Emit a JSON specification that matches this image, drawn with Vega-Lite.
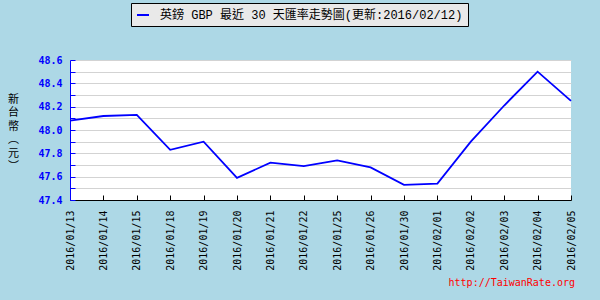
{
  "$schema": "https://vega.github.io/schema/vega-lite/v6.json",
  "width": 501,
  "height": 140,
  "autosize": {"type": "none"},
  "padding": {"left": 70, "top": 60, "right": 29, "bottom": 100},
  "background": "#add8e6",
  "title": {
    "text": "http://TaiwanRate.org",
    "orient": "bottom",
    "anchor": "end",
    "frame": "group",
    "color": "#ff0000",
    "font": "DejaVu Sans Mono",
    "fontSize": 10,
    "fontWeight": "normal",
    "baseline": "top",
    "offset": 8,
    "dx": 4
  },
  "config": {
    "view": {"fill": "#ffffff", "stroke": null}
  },
  "data": {
    "values": [
      {"date": "2016/01/13", "rate": 48.08, "series": "英鎊 GBP 最近 30 天匯率走勢圖(更新:2016/02/12)"},
      {"date": "2016/01/14", "rate": 48.12, "series": "英鎊 GBP 最近 30 天匯率走勢圖(更新:2016/02/12)"},
      {"date": "2016/01/15", "rate": 48.13, "series": "英鎊 GBP 最近 30 天匯率走勢圖(更新:2016/02/12)"},
      {"date": "2016/01/18", "rate": 47.83, "series": "英鎊 GBP 最近 30 天匯率走勢圖(更新:2016/02/12)"},
      {"date": "2016/01/19", "rate": 47.90, "series": "英鎊 GBP 最近 30 天匯率走勢圖(更新:2016/02/12)"},
      {"date": "2016/01/20", "rate": 47.59, "series": "英鎊 GBP 最近 30 天匯率走勢圖(更新:2016/02/12)"},
      {"date": "2016/01/21", "rate": 47.72, "series": "英鎊 GBP 最近 30 天匯率走勢圖(更新:2016/02/12)"},
      {"date": "2016/01/22", "rate": 47.69, "series": "英鎊 GBP 最近 30 天匯率走勢圖(更新:2016/02/12)"},
      {"date": "2016/01/25", "rate": 47.74, "series": "英鎊 GBP 最近 30 天匯率走勢圖(更新:2016/02/12)"},
      {"date": "2016/01/26", "rate": 47.68, "series": "英鎊 GBP 最近 30 天匯率走勢圖(更新:2016/02/12)"},
      {"date": "2016/01/30", "rate": 47.53, "series": "英鎊 GBP 最近 30 天匯率走勢圖(更新:2016/02/12)"},
      {"date": "2016/02/01", "rate": 47.54, "series": "英鎊 GBP 最近 30 天匯率走勢圖(更新:2016/02/12)"},
      {"date": "2016/02/02", "rate": 47.90, "series": "英鎊 GBP 最近 30 天匯率走勢圖(更新:2016/02/12)"},
      {"date": "2016/02/03", "rate": 48.21, "series": "英鎊 GBP 最近 30 天匯率走勢圖(更新:2016/02/12)"},
      {"date": "2016/02/04", "rate": 48.50, "series": "英鎊 GBP 最近 30 天匯率走勢圖(更新:2016/02/12)"},
      {"date": "2016/02/05", "rate": 48.25, "series": "英鎊 GBP 最近 30 天匯率走勢圖(更新:2016/02/12)"}
    ]
  },
  "mark": {"type": "line", "strokeWidth": 1.8},
  "encoding": {
    "x": {
      "field": "date",
      "type": "ordinal",
      "scale": {"type": "point", "padding": 0},
      "axis": {
        "title": null,
        "labelAngle": 270,
        "labelAlign": "right",
        "labelBaseline": "middle",
        "labelFont": "DejaVu Sans Mono",
        "labelFontSize": 10,
        "labelColor": "#000000",
        "labelPadding": 15,
        "tickSize": -5,
        "tickColor": "#000000",
        "domainColor": "#000000",
        "grid": false
      }
    },
    "y": {
      "field": "rate",
      "type": "quantitative",
      "scale": {"domain": [47.4, 48.6], "nice": false, "zero": false},
      "axis": {
        "values": [47.4, 47.5, 47.6, 47.7, 47.8, 47.9, 48.0, 48.1, 48.2, 48.3, 48.4, 48.5, 48.6],
        "labelExpr": "round(datum.value * 10) % 2 == 0 ? format(datum.value, '.1f') : ''",
        "labelFont": "DejaVu Sans Mono",
        "labelFontSize": 10,
        "labelFontWeight": "bold",
        "labelColor": "#0000ff",
        "labelPadding": 13,
        "tickSize": -5,
        "tickColor": "#0000ff",
        "domainColor": "#0000ff",
        "grid": true,
        "gridColor": "#d3d3d3",
        "title": ["新", "台", "幣", "︵", "元", "︶"],
        "titleFont": "Noto Sans CJK TC",
        "titleFontSize": 11,
        "titleFontWeight": "normal",
        "titleLineHeight": 13.5,
        "titleAngle": 0,
        "titleAlign": "center",
        "titleBaseline": "middle",
        "titleX": -57,
        "titleY": 39,
        "titleColor": "#000000"
      }
    },
    "color": {
      "field": "series",
      "type": "nominal",
      "scale": {"range": ["#0000ff"]},
      "legend": {
        "title": null,
        "orient": "none",
        "legendX": 61,
        "legendY": -57,
        "fillColor": "#e9e9e9",
        "strokeColor": "#000000",
        "padding": 5,
        "symbolType": "stroke",
        "symbolSize": 144,
        "symbolStrokeWidth": 2,
        "labelOffset": 10,
        "labelFont": "Liberation Mono, Noto Sans CJK TC",
        "labelFontSize": 12,
        "labelColor": "#000000",
        "labelLimit": 600
      }
    }
  }
}
